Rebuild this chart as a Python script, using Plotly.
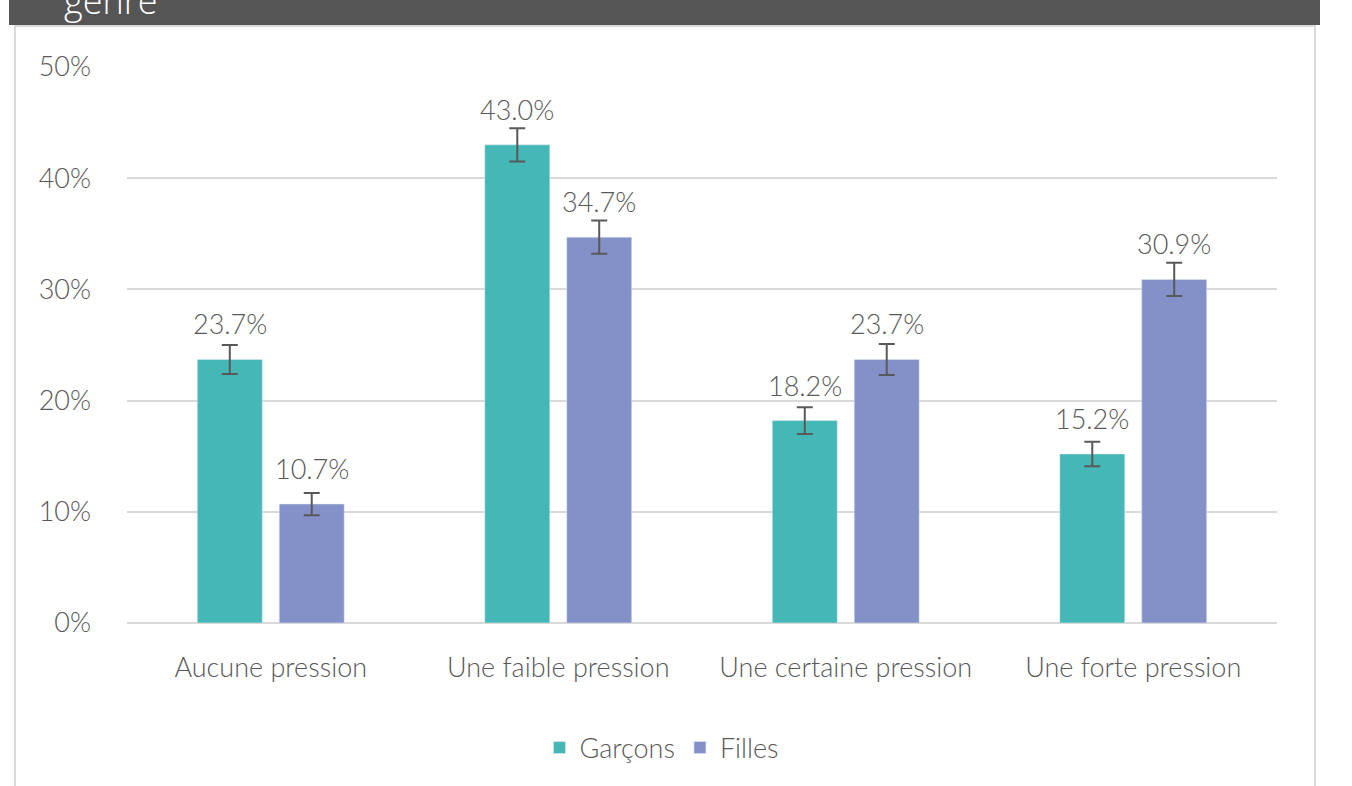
import plotly.graph_objects as go

categories = ["Aucune pression", "Une faible pression", "Une certaine pression", "Une forte pression"]
garcons = [23.7, 43.0, 18.2, 15.2]
filles = [10.7, 34.7, 23.7, 30.9]
garcons_err = [1.3, 1.5, 1.2, 1.1]
filles_err = [1.0, 1.5, 1.4, 1.5]
y_ticks = [0, 10, 20, 30, 40, 50]
y_ticklabels = ["0%", "10%", "20%", "30%", "40%", "50%"]
header_text = "genre"

FONT = "Lato, DejaVu Sans Condensed, sans-serif"
TXT = "#595959"
C_G = "#44B7B6"
C_F = "#8491C8"
WEIGHT = 300

fig = go.Figure()
fig.add_trace(go.Bar(
    name="Garçons", x=categories, y=garcons, marker_color=C_G,
    error_y=dict(type="data", array=garcons_err, color=TXT, thickness=2, width=8),
))
fig.add_trace(go.Bar(
    name="Filles", x=categories, y=filles, marker_color=C_F,
    error_y=dict(type="data", array=filles_err, color=TXT, thickness=2, width=8),
))

# value labels
for vals, shift in ((garcons, -41), (filles, 41)):
    for c, v in zip(categories, vals):
        fig.add_annotation(x=c, y=v, xref="x", yref="y", text=f"{v:.1f}%",
                           showarrow=False, xshift=shift, yshift=17, yanchor="bottom",
                           font=dict(family=FONT, size=27, color=TXT, weight=WEIGHT))

# header bar and panel border
W, L, T, H = 1150, 127, 67, 556
def px(x):
    return (x - L) / W
def py(y):
    return 1 - (y - T) / H

fig.add_shape(type="rect", xref="paper", yref="paper", x0=px(9), x1=px(1320), y0=py(25), y1=py(-5),
              fillcolor="#555555", line_width=0, layer="above")
fig.add_shape(type="rect", xref="paper", yref="paper", x0=px(15), x1=px(1315), y0=py(820), y1=py(26),
              fillcolor="rgba(0,0,0,0)", line=dict(color="#dadada", width=2))
fig.add_annotation(xref="paper", yref="paper", x=px(62), y=py(0), xanchor="left", yanchor="middle",
                   text=header_text, showarrow=False,
                   font=dict(family="Open Sans, sans-serif", size=36, color="white"))

fig.update_layout(
    width=1352, height=786,
    margin=dict(l=L, r=1352 - L - W, t=T, b=786 - T - H),
    paper_bgcolor="white", plot_bgcolor="white",
    barmode="group", bargap=0.43, bargroupgap=0.207,
    font=dict(family=FONT, size=27, color=TXT, weight=WEIGHT),
    showlegend=True,
    legend=dict(orientation="h", x=0.5 - 40 / W, xanchor="center", y=py(748), yanchor="middle",
                font=dict(family=FONT, size=27, color=TXT, weight=WEIGHT), itemwidth=30),
    xaxis=dict(showgrid=False, showline=False, ticks="", ticklabelstandoff=26,
               tickfont=dict(family=FONT, size=27, color=TXT, weight=WEIGHT)),
    yaxis=dict(range=[0, 50], tickvals=y_ticks, ticktext=y_ticklabels,
               showgrid=True, gridcolor="#d9d9d9", gridwidth=2,
               zeroline=True, zerolinecolor="#d9d9d9", zerolinewidth=2,
               showline=False, ticklabelstandoff=35,
               tickfont=dict(family=FONT, size=27, color=TXT, weight=WEIGHT)),
)

fig.write_html("out.html", config={"displayModeBar": False},
               post_script="document.body.style.margin='0';")
